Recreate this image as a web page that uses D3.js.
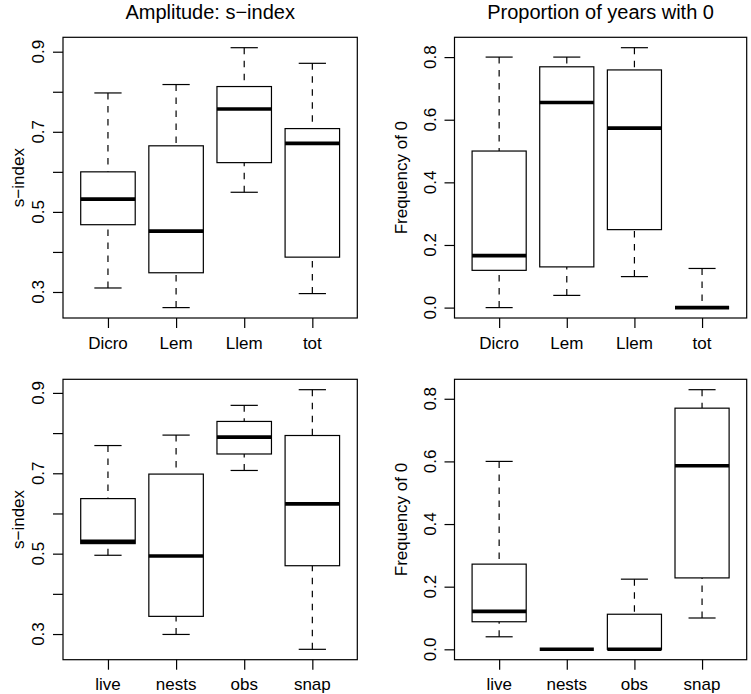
<!DOCTYPE html>
<html>
<head>
<meta charset="utf-8">
<script src="https://cdn.jsdelivr.net/npm/d3@7"></script>
<style>
  body { margin: 0; background: #fff; }
  svg { display: block; font-family: "Liberation Sans", Arial, Helvetica, sans-serif; }
</style>
</head>
<body>
<svg width="751" height="694"></svg>
<script>
// Groups for each row
const groupsTop = ['Dicro', 'Lem', 'Llem', 'tot'];
const groupsBottom = ['live', 'nests', 'obs', 'snap'];

// Box stats: [lower whisker, Q1, median, Q3, upper whisker]
const sIndexTop = [
  [0.310, 0.468, 0.532, 0.600, 0.797],
  [0.261, 0.348, 0.452, 0.665, 0.818],
  [0.549, 0.623, 0.757, 0.813, 0.910],
  [0.296, 0.387, 0.671, 0.708, 0.871]
];
const freqTop = [
  [0.000, 0.119, 0.166, 0.500, 0.800],
  [0.039, 0.130, 0.655, 0.769, 0.800],
  [0.099, 0.249, 0.573, 0.759, 0.830],
  [0.000, 0.000, 0.000, 0.000, 0.125]
];
const sIndexBottom = [
  [0.496, 0.525, 0.531, 0.637, 0.769],
  [0.299, 0.344, 0.494, 0.698, 0.795],
  [0.707, 0.748, 0.790, 0.829, 0.869],
  [0.262, 0.470, 0.624, 0.794, 0.908]
];
const freqBottom = [
  [0.040, 0.088, 0.121, 0.272, 0.600],
  [0.000, 0.000, 0.000, 0.000, 0.000],
  [0.000, 0.000, 0.000, 0.112, 0.224],
  [0.100, 0.228, 0.586, 0.770, 0.829]
];

// Axis ticks and labels (R drops the labels that would overlap)
const sIndexTicks = [0.3, 0.4, 0.5, 0.6, 0.7, 0.8, 0.9];
const sIndexLabels = [0.3, 0.5, 0.7, 0.9];
const freqTicks = [0.0, 0.2, 0.4, 0.6, 0.8];
const freqLabels = [0.0, 0.2, 0.4, 0.6, 0.8];

const titles = ['Amplitude: s\u2212index', 'Proportion of years with 0'];
const yLabels = ['s\u2212index', 'Frequency of 0'];

const svg = d3.select('svg');

const cols = [
  { left: 63, right: 357.3, ylabOff: 39 },
  { left: 454.5, right: 746.7, ylabOff: 47.5 }
];
const rows = [
  { top: 37.3, bottom: 318 },
  { top: 379.3, bottom: 659.7 }
];

const panels = [
  { row: 0, col: 0, groups: groupsTop, stats: sIndexTop, ticks: sIndexTicks, labels: sIndexLabels, title: titles[0], ylab: yLabels[0] },
  { row: 0, col: 1, groups: groupsTop, stats: freqTop, ticks: freqTicks, labels: freqLabels, title: titles[1], ylab: yLabels[1] },
  { row: 1, col: 0, groups: groupsBottom, stats: sIndexBottom, ticks: sIndexTicks, labels: sIndexLabels, ylab: yLabels[0] },
  { row: 1, col: 1, groups: groupsBottom, stats: freqBottom, ticks: freqTicks, labels: freqLabels, ylab: yLabels[1] }
];

const lw = 1.2;
const dash = '6.5,6.5';

function drawPanel(p) {
  const c = cols[p.col], r = rows[p.row];
  const n = p.groups.length;

  // R style range: data extent padded by 4%
  const lo = d3.min(p.stats, s => s[0]);
  const hi = d3.max(p.stats, s => s[4]);
  const pad = (hi - lo) * 0.04;
  const y = d3.scaleLinear().domain([lo - pad, hi + pad]).range([r.bottom, r.top]);
  const xpad = n * 0.04;
  const x = d3.scaleLinear().domain([0.5 - xpad, n + 0.5 + xpad]).range([c.left, c.right]);

  const g = svg.append('g');

  // y axis
  const ya = g.append('g')
    .attr('transform', `translate(${c.left},0)`)
    .call(d3.axisLeft(y).tickValues(p.ticks).tickSize(10).tickFormat(''));
  ya.select('.domain').remove();
  ya.selectAll('line').attr('stroke', '#000').attr('stroke-width', lw);

  g.selectAll('.ylbl')
    .data(p.labels)
    .enter().append('text')
    .attr('transform', d => `translate(${c.left - 19},${y(d)}) rotate(-90)`)
    .attr('text-anchor', 'middle')
    .attr('font-size', 17)
    .text(d => d.toFixed(1));

  // x axis
  const xa = g.append('g')
    .attr('transform', `translate(0,${r.bottom})`)
    .call(d3.axisBottom(x).tickValues(d3.range(1, n + 1)).tickSize(10).tickFormat(''));
  xa.select('.domain').remove();
  xa.selectAll('line').attr('stroke', '#000').attr('stroke-width', lw);

  g.selectAll('.xlbl')
    .data(p.groups)
    .enter().append('text')
    .attr('x', (d, i) => x(i + 1))
    .attr('y', r.bottom + 30.5)
    .attr('text-anchor', 'middle')
    .attr('font-size', 17)
    .text(d => d);

  // boxes
  p.stats.forEach((s, i) => {
    const b = g.append('g');
    const cx = x(i + 1);

    // whiskers, drawn from the cap toward the box
    [[4, 3], [0, 1]].forEach(([w, q]) => {
      if (s[w] === s[q]) return;
      b.append('line')
        .attr('x1', cx).attr('x2', cx)
        .attr('y1', y(s[w])).attr('y2', y(s[q]))
        .attr('stroke', '#000').attr('stroke-width', lw).attr('stroke-dasharray', dash);
      b.append('line')
        .attr('x1', x(i + 1 - 0.2)).attr('x2', x(i + 1 + 0.2))
        .attr('y1', y(s[w])).attr('y2', y(s[w]))
        .attr('stroke', '#000').attr('stroke-width', lw);
    });

    b.append('rect')
      .attr('x', x(i + 1 - 0.4))
      .attr('width', x(i + 1 + 0.4) - x(i + 1 - 0.4))
      .attr('y', y(s[3]))
      .attr('height', y(s[1]) - y(s[3]))
      .attr('fill', '#fff').attr('stroke', '#000').attr('stroke-width', lw);

    b.append('line')
      .attr('x1', x(i + 1 - 0.4)).attr('x2', x(i + 1 + 0.4))
      .attr('y1', y(s[2])).attr('y2', y(s[2]))
      .attr('stroke', '#000').attr('stroke-width', 3.6);
  });

  // frame
  g.append('rect')
    .attr('x', c.left).attr('y', r.top)
    .attr('width', c.right - c.left).attr('height', r.bottom - r.top)
    .attr('fill', 'none').attr('stroke', '#000').attr('stroke-width', lw);

  // axis title
  g.append('text')
    .attr('transform', `translate(${c.left - c.ylabOff},${(r.top + r.bottom) / 2}) rotate(-90)`)
    .attr('text-anchor', 'middle')
    .attr('font-size', 17)
    .text(p.ylab);

  if (p.title) {
    g.append('text')
      .attr('x', (c.left + c.right) / 2)
      .attr('y', 19)
      .attr('text-anchor', 'middle')
      .attr('font-size', 20)
      .text(p.title);
  }
}

panels.forEach(drawPanel);
</script>
</body>
</html>
